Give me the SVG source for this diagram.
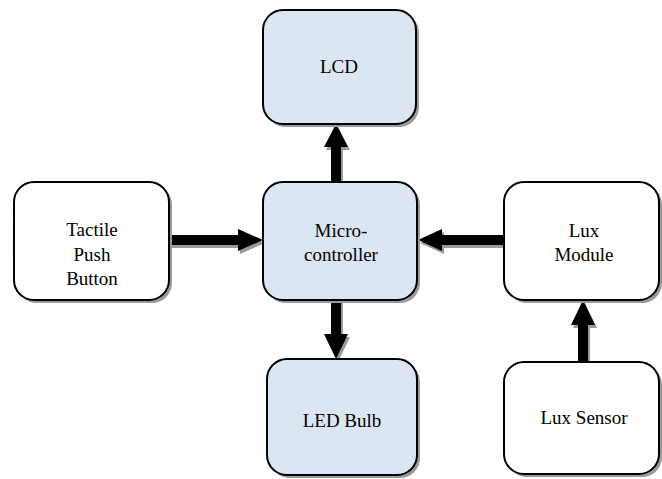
<svg xmlns="http://www.w3.org/2000/svg" width="662" height="479" viewBox="0 0 662 479">
<rect width="662" height="479" fill="#fff"/>
<g id="connectors">
<g fill="#9a9a9a" transform="translate(2,3)">
<polygon points="331,182 331,147 324,147 336,124 348,147 341,147 341,182"/>
<polygon points="331,300 331,334 324,334 336,359 348,334 341,334 341,300"/>
<polygon points="169,235 238,235 238,229 263,240 238,251 238,245 169,245"/>
<polygon points="504,235 442,235 442,229 418,240 442,251 442,245 504,245"/>
<polygon points="578,362 578,325 571,325 583,300 595,325 588,325 588,362"/>
</g>
<g fill="#000">
<polygon points="331,182 331,147 324,147 336,124 348,147 341,147 341,182"/>
<polygon points="331,300 331,334 324,334 336,359 348,334 341,334 341,300"/>
<polygon points="169,235 238,235 238,229 263,240 238,251 238,245 169,245"/>
<polygon points="504,235 442,235 442,229 418,240 442,251 442,245 504,245"/>
<polygon points="578,362 578,325 571,325 583,300 595,325 588,325 588,362"/>
</g>
</g>
<g id="lcd">
<rect x="266" y="13" width="153" height="114" rx="20" fill="#9a9a9a"/>
<rect x="263" y="10" width="153" height="114" rx="20" fill="#DCE6F2" stroke="#000" stroke-width="2"/>
<text x="339" y="73" font-size="19" text-anchor="middle" font-family="Liberation Serif, Times New Roman, serif">LCD</text>
</g>
<g id="micro">
<rect x="266" y="185" width="154" height="118" rx="20" fill="#9a9a9a"/>
<rect x="263" y="182" width="154" height="118" rx="20" fill="#DCE6F2" stroke="#000" stroke-width="2"/>
<text x="341" y="237" font-size="19" text-anchor="middle" font-family="Liberation Serif, Times New Roman, serif">Micro-</text>
<text x="341" y="261" font-size="19" text-anchor="middle" font-family="Liberation Serif, Times New Roman, serif">controller</text>
</g>
<g id="tactile">
<rect x="17" y="185" width="155" height="118" rx="20" fill="#9a9a9a"/>
<rect x="14" y="182" width="155" height="118" rx="20" fill="#fff" stroke="#000" stroke-width="2"/>
<text x="92" y="236" font-size="19" text-anchor="middle" font-family="Liberation Serif, Times New Roman, serif">Tactile</text>
<text x="92" y="261" font-size="19" text-anchor="middle" font-family="Liberation Serif, Times New Roman, serif">Push</text>
<text x="92" y="285" font-size="19" text-anchor="middle" font-family="Liberation Serif, Times New Roman, serif">Button</text>
</g>
<g id="luxmodule">
<rect x="507" y="185" width="155" height="118" rx="20" fill="#9a9a9a"/>
<rect x="504" y="182" width="155" height="118" rx="20" fill="#fff" stroke="#000" stroke-width="2"/>
<text x="584" y="237" font-size="19" text-anchor="middle" font-family="Liberation Serif, Times New Roman, serif">Lux</text>
<text x="584" y="261" font-size="19" text-anchor="middle" font-family="Liberation Serif, Times New Roman, serif">Module</text>
</g>
<g id="ledbulb">
<rect x="270" y="362" width="150" height="116" rx="20" fill="#9a9a9a"/>
<rect x="267" y="359" width="150" height="116" rx="20" fill="#DCE6F2" stroke="#000" stroke-width="2"/>
<text x="342" y="427" font-size="19" text-anchor="middle" font-family="Liberation Serif, Times New Roman, serif">LED Bulb</text>
</g>
<g id="luxsensor">
<rect x="507" y="365" width="155" height="112" rx="20" fill="#9a9a9a"/>
<rect x="504" y="362" width="155" height="112" rx="20" fill="#fff" stroke="#000" stroke-width="2"/>
<text x="584" y="424" font-size="19" text-anchor="middle" font-family="Liberation Serif, Times New Roman, serif">Lux Sensor</text>
</g>
</svg>
